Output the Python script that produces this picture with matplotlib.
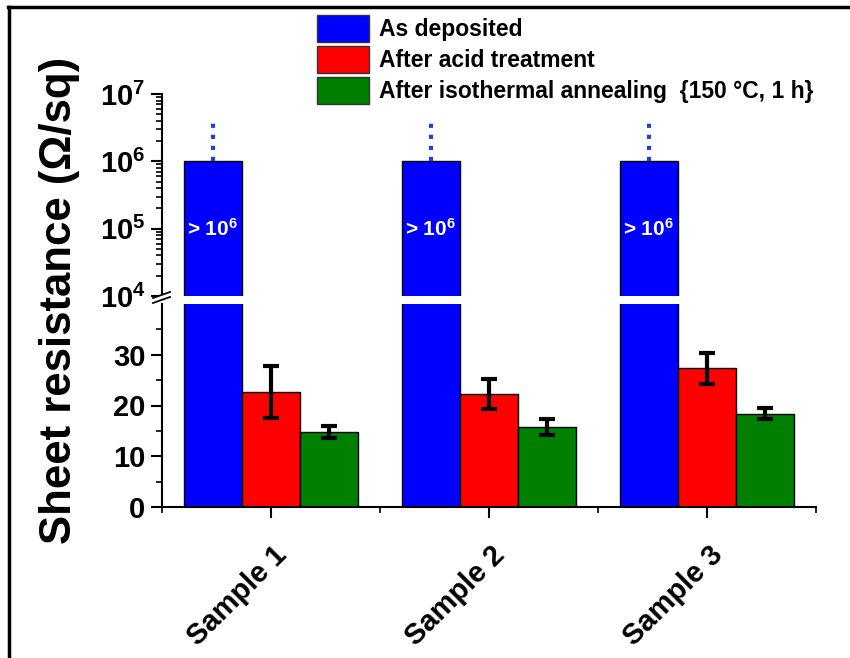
import numpy as np
import matplotlib.pyplot as plt
from matplotlib.lines import Line2D
from matplotlib.patches import Patch, Polygon
from matplotlib.ticker import LogLocator, NullFormatter
from matplotlib.transforms import ScaledTranslation

plt.rcParams['font.family'] = ['Liberation Sans', 'DejaVu Sans']
plt.rcParams['font.weight'] = 'bold'
plt.rcParams['mathtext.fontset'] = 'custom'
plt.rcParams['mathtext.rm'] = 'Liberation Sans:bold'
plt.rcParams['mathtext.bf'] = 'Liberation Sans:bold'
plt.rcParams['mathtext.default'] = 'bf'

# data
samples = ['Sample 1', 'Sample 2', 'Sample 3']
series = ['As deposited', 'After acid treatment',
          'After isothermal annealing  {150 °C, 1 h}']
as_dep = [1e6, 1e6, 1e6]          # lower bound only (> 10^6)
as_dep_upper = [4e6, 4e6, 4e6]    # dotted continuation
acid = [22.65, 22.3, 27.3]
acid_err = [5.05, 2.9, 3.1]
anneal = [14.8, 15.8, 18.4]
anneal_err = [1.25, 1.6, 1.05]

colors = ['#0000ff', '#ff0000', '#008000']
W = 850
H = 658

fig = plt.figure(figsize=(8.5, 6.58), dpi=100)
left = 162 / W
width = (816 - 162) / W
ax_top = fig.add_axes([left, 1 - 296 / H, width, (296 - 94) / H])
ax_bot = fig.add_axes([left, 1 - 507 / H, width, (507 - 304) / H])

x = np.arange(len(samples))
bw = 0.267

# ---------------- lower (linear) part
ax_bot.bar(x - bw, as_dep, bw, color=colors[0], edgecolor='black', lw=1)
ax_bot.bar(x, acid, bw, color=colors[1], edgecolor='black', lw=1)
ax_bot.bar(x + bw, anneal, bw, color=colors[2], edgecolor='black', lw=1)
ax_bot.errorbar(x, acid, yerr=acid_err, fmt='none', ecolor='black',
                elinewidth=3, capsize=6, capthick=3)
ax_bot.errorbar(x + bw, anneal, yerr=anneal_err, fmt='none', ecolor='black',
                elinewidth=3, capsize=6, capthick=3)
ax_bot.set_ylim(0, 40)
ax_bot.set_xlim(-0.5, 2.5)
ax_bot.set_yticks([0, 10, 20, 30])
ax_bot.set_yticks([5, 15, 25, 35], minor=True)
ax_bot.set_xticks(x)
ax_bot.set_xticks([-0.5, 0.5, 1.5, 2.5], minor=True)
ax_bot.set_xticklabels([])
lab_tr = ax_bot.get_xaxis_transform() + ScaledTranslation(0.21, -0.34, fig.dpi_scale_trans)
for xi, name in zip(x, samples):
    ax_bot.text(xi, 0, name, transform=lab_tr, rotation=45, ha='right', va='top',
                fontsize=21, fontweight='bold')
ax_bot.spines[['top', 'right']].set_visible(False)

# ---------------- upper (log) part
ax_top.bar(x - bw, as_dep, bw, bottom=1, color=colors[0], edgecolor='black', lw=1)
ax_top.vlines(x - bw, as_dep, as_dep_upper, colors='#1f3fe0', linestyles=':', lw=3)
for xi in x - bw:
    ax_top.text(xi, 1e5, r'> 10$^{6}$', color='white', ha='center', va='center',
                fontsize=15)
ax_top.set_yscale('log')
ax_top.set_ylim(1e4, 1e7)
ax_top.set_xlim(-0.5, 2.5)
ax_top.set_yticks([1e4, 1e5, 1e6, 1e7])
ax_top.yaxis.set_minor_locator(LogLocator(base=10, subs=np.arange(2, 10), numticks=50))
ax_top.yaxis.set_minor_formatter(NullFormatter())
ax_top.set_xticks([])
ax_top.spines[['top', 'right', 'bottom']].set_visible(False)

for ax in (ax_top, ax_bot):
    for s in ax.spines.values():
        s.set_linewidth(1.5)
    ax.tick_params(axis='both', which='major', length=8, width=1.5,
                   labelsize=21, pad=4)
    ax.tick_params(axis='both', which='minor', length=4, width=1.2)

# axis break marks
bx0, bx1 = 153 / W, 170 / W
gap = Polygon([[bx0, 1 - 303 / H], [bx1, 1 - 297 / H], [bx1, 1 - 292 / H],
               [bx0, 1 - 298 / H]], closed=True, transform=fig.transFigure,
              facecolor='white', edgecolor='none', zorder=5)
fig.add_artist(gap)
fig.add_artist(Line2D([bx0, bx1], [1 - 298 / H, 1 - 292 / H],
                      transform=fig.transFigure, color='black', lw=1.3, zorder=6))
fig.add_artist(Line2D([bx0, bx1], [1 - 303 / H, 1 - 297 / H],
                      transform=fig.transFigure, color='black', lw=1.3, zorder=6))

fig.text(60 / W, 1 - 300 / H, 'Sheet resistance (Ω/sq)', rotation=90,
         ha='center', va='center', fontsize=31.5, fontweight='bold')

handles = [Patch(facecolor=c, edgecolor='#333333', lw=1) for c in colors]
fig.legend(handles, series, loc='upper left', bbox_to_anchor=(317 / W, 1 - 15 / H),
           frameon=False, fontsize=16.5, handlelength=2.27, handleheight=1.44,
           labelspacing=0.17, handletextpad=0.45, borderpad=0, borderaxespad=0)

# outer frame (top and left only)
fig.add_artist(Line2D([8 / W, 1], [1 - 7 / H, 1 - 7 / H], transform=fig.transFigure,
                      color='black', lw=2.5))
fig.add_artist(Line2D([9 / W, 9 / W], [0, 1 - 7 / H], transform=fig.transFigure,
                      color='black', lw=2.5))

fig.savefig('out.png', dpi=100)
